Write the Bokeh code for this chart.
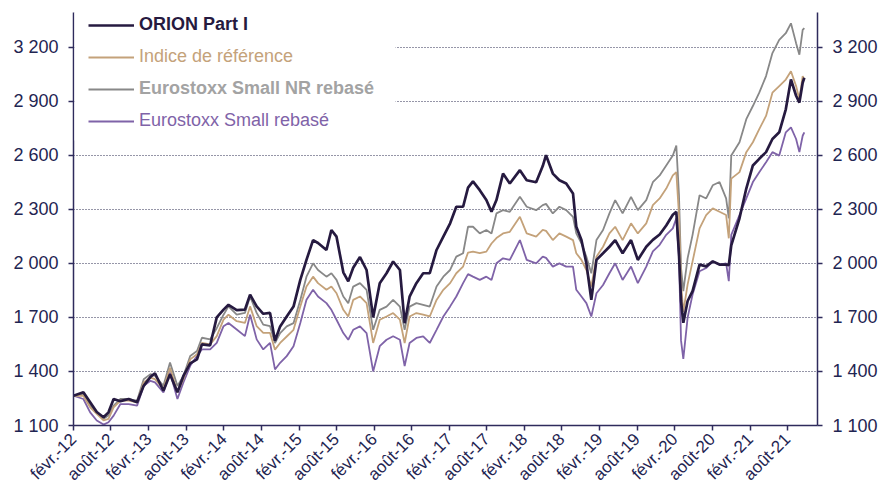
import math
import pandas as pd
from bokeh.plotting import figure
from bokeh.models import (Range1d, LinearAxis, FixedTicker, Legend, LegendItem,
                          BoxAnnotation, ColumnDataSource)
from bokeh.embed import file_html
from bokeh.resources import INLINE

# ---------------- data ----------------
dates = [
    "2012-02-01", "2012-03-20", "2012-04-22", "2012-05-24", "2012-06-26", "2012-07-20", "2012-08-14", "2012-09-16",
    "2012-10-26", "2012-12-06", "2013-01-07", "2013-02-09", "2013-03-03", "2013-04-13", "2013-05-15", "2013-06-20",
    "2013-07-19", "2013-08-21", "2013-09-23", "2013-10-17", "2013-11-26", "2013-12-28", "2014-01-30", "2014-02-23",
    "2014-04-04", "2014-05-14", "2014-06-08", "2014-07-10", "2014-08-11", "2014-09-13",
    "2014-10-07", "2014-11-01", "2014-12-03", "2015-01-05", "2015-02-07", "2015-03-09", "2015-04-10", "2015-05-04",
    "2015-06-14", "2015-07-08", "2015-08-02", "2015-09-04", "2015-09-28", "2015-10-22", "2015-11-24", "2015-12-26",
    "2016-01-27", "2016-02-28", "2016-04-01", "2016-05-03", "2016-06-05", "2016-06-28", "2016-07-22", "2016-08-24",
    "2016-09-26", "2016-10-28", "2016-11-30", "2017-01-02", "2017-02-04", "2017-03-06",
    "2017-04-08", "2017-05-02", "2017-05-26", "2017-06-28", "2017-07-30", "2017-08-24", "2017-09-17", "2017-10-19",
    "2017-11-21", "2018-01-09", "2018-02-11", "2018-03-29", "2018-04-30", "2018-05-16", "2018-06-18", "2018-07-20",
    "2018-08-22", "2018-09-24", "2018-10-10", "2018-11-04", "2018-11-28", "2018-12-22", "2019-01-16", "2019-02-17",
    "2019-03-20", "2019-04-17", "2019-05-23", "2019-07-03", "2019-08-05", "2019-09-15",
    "2019-10-17", "2019-11-19", "2019-12-21", "2020-01-22", "2020-02-08", "2020-02-21", "2020-03-02", "2020-03-13",
    "2020-04-03", "2020-04-27", "2020-05-31", "2020-07-02", "2020-08-03", "2020-09-05", "2020-10-07", "2020-10-20",
    "2020-11-01", "2020-12-11", "2021-01-13", "2021-02-14", "2021-03-17", "2021-04-19", "2021-05-20", "2021-06-22",
    "2021-07-24", "2021-08-18", "2021-09-12", "2021-09-28", "2021-10-14", "2021-10-22",
]

orion = [
    1265, 1284, 1229, 1175, 1146, 1173, 1247, 1235, 1247, 1229, 1320, 1370, 1390, 1293, 1385, 1284,
    1375, 1445, 1467, 1550, 1545, 1700, 1743, 1770, 1740, 1743, 1826, 1761, 1720, 1725,
    1570, 1650, 1705, 1760, 1908, 2019, 2129, 2113, 2074, 2185, 2148, 1950, 1900, 1975, 2035, 1963,
    1700, 1890, 1945, 2010, 1963, 1668, 1815, 1890, 1945, 1945, 2074, 2148, 2222, 2314,
    2314, 2420, 2455, 2406, 2351, 2286, 2351, 2498, 2443, 2517, 2461, 2450, 2540, 2600, 2498, 2461,
    2443, 2388, 2203, 2129, 2000, 1797, 2019, 2056, 2092, 2129, 2056, 2129, 2019, 2092,
    2130, 2160, 2210, 2270, 2286, 2050, 1791, 1670, 1791, 1846, 1993, 1983, 2011, 1993, 1993, 1990,
    2100, 2250, 2415, 2543, 2580, 2617, 2690, 2727, 2855, 3020, 2930, 2892, 3002, 3030,
]

indice = [
    1265, 1265, 1201, 1164, 1128, 1137, 1201, 1238, 1238, 1229, 1339, 1366, 1357, 1302, 1421, 1284,
    1357, 1467, 1495, 1559, 1550, 1596, 1688, 1715, 1679, 1669, 1761, 1651, 1614, 1614,
    1521, 1558, 1594, 1631, 1760, 1871, 1926, 1890, 1853, 1871, 1834, 1742, 1705, 1797, 1816, 1779,
    1558, 1687, 1705, 1724, 1687, 1558, 1705, 1724, 1715, 1705, 1797, 1853, 1890, 1945,
    1982, 2060, 2065, 2056, 2065, 2110, 2140, 2166, 2175, 2258, 2166, 2148, 2185, 2180, 2129, 2166,
    2148, 2129, 2056, 2019, 1963, 1871, 2037, 2092, 2166, 2203, 2129, 2222, 2166, 2222,
    2323, 2360, 2415, 2488, 2506, 2268, 1883, 1730, 1883, 2011, 2194, 2268, 2305, 2286, 2268, 2139,
    2470, 2506, 2617, 2672, 2745, 2818, 2947, 2984, 3020, 3066, 2984, 2910, 3039, 3020,
]

small_nr = [
    1265, 1275, 1210, 1173, 1137, 1155, 1210, 1247, 1247, 1238, 1357, 1385, 1375, 1320, 1449, 1320,
    1375, 1486, 1513, 1587, 1578, 1640, 1715, 1761, 1715, 1725, 1816, 1725, 1660, 1651,
    1558, 1613, 1650, 1668, 1797, 1926, 2000, 1963, 1926, 1945, 1908, 1816, 1779, 1871, 1890, 1853,
    1631, 1742, 1760, 1797, 1760, 1631, 1760, 1779, 1770, 1760, 1871, 1926, 1963, 2037,
    2056, 2203, 2203, 2166, 2185, 2166, 2277, 2295, 2286, 2369, 2314, 2295, 2323, 2330, 2277, 2314,
    2295, 2258, 2166, 2111, 2037, 1945, 2129, 2185, 2277, 2351, 2277, 2369, 2295, 2351,
    2450, 2488, 2543, 2598, 2653, 2378, 1974, 1846, 2029, 2158, 2378, 2360, 2433, 2451, 2360, 2250,
    2598, 2672, 2800, 2873, 2947, 3039, 3167, 3240, 3277, 3332, 3222, 3158, 3295, 3305,
]

small = [
    1265, 1247, 1173, 1128, 1105, 1118, 1155, 1219, 1219, 1210, 1320, 1348, 1339, 1284, 1394, 1247,
    1339, 1431, 1486, 1522, 1522, 1559, 1651, 1669, 1633, 1596, 1715, 1578, 1522, 1559,
    1411, 1448, 1485, 1540, 1669, 1798, 1853, 1816, 1779, 1742, 1687, 1613, 1576, 1631, 1650, 1613,
    1400, 1540, 1576, 1595, 1576, 1430, 1558, 1586, 1595, 1558, 1631, 1705, 1761, 1816,
    1890, 1940, 1926, 1908, 1926, 1908, 2000, 2028, 2019, 2129, 2019, 2000, 2037, 2030, 1982, 2000,
    1982, 1982, 1853, 1816, 1779, 1705, 1834, 1880, 1945, 2000, 1908, 1982, 1890, 1982,
    2066, 2103, 2158, 2194, 2250, 2029, 1571, 1470, 1699, 1827, 1956, 1974, 2011, 1993, 2000, 1901,
    2158, 2268, 2360, 2451, 2506, 2561, 2617, 2598, 2727, 2754, 2690, 2617, 2708, 2727,
]

series_names = ["ORION Part I", "Indice de référence", "Eurostoxx Small NR rebasé", "Eurostoxx Small rebasé"]

tick_dates = ["2012-02-01", "2012-08-01", "2013-02-01", "2013-08-01", "2014-02-01", "2014-08-01",
              "2015-02-01", "2015-08-01", "2016-02-01", "2016-08-01", "2017-02-01", "2017-08-01",
              "2018-02-01", "2018-08-01", "2019-02-01", "2019-08-01", "2020-02-01", "2020-08-01",
              "2021-02-01", "2021-08-01"]
tick_labels = ["févr.-12", "août-12", "févr.-13", "août-13", "févr.-14", "août-14", "févr.-15", "août-15",
               "févr.-16", "août-16", "févr.-17", "août-17", "févr.-18", "août-18", "févr.-19", "août-19",
               "févr.-20", "août-20", "févr.-21", "août-21"]

y_ticks = [1100, 1400, 1700, 2000, 2300, 2600, 2900, 3200]
y_labels = ["1 100", "1 400", "1 700", "2 000", "2 300", "2 600", "2 900", "3 200"]

x_start = "2012-02-01"
x_end = "2021-12-25"
y_min, y_max = 1100, 3392

# ---------------- build ----------------
base = pd.Timestamp(x_start)
xd = [(pd.Timestamp(d) - base).days for d in dates]
xt = [(pd.Timestamp(d) - base).days for d in tick_dates]
xe = (pd.Timestamp(x_end) - base).days

src = ColumnDataSource(dict(x=xd, orion=orion, indice=indice, nr=small_nr, small=small))

FONT = "Liberation Sans"
TXT = "#1f2552"
AX = "#2e2b5c"
C_ORION = "#261a40"
C_IND = "#c4a27a"
C_NR = "#888888"
C_SM = "#7f63a8"

p = figure(width=880, height=493, output_backend="svg", toolbar_location=None,
           x_range=Range1d(0, xe), y_range=Range1d(y_min, y_max),
           min_border_left=73, min_border_right=62, min_border_top=12, min_border_bottom=67)
p.title.visible = False
p.outline_line_color = None
p.xgrid.visible = False
p.ygrid.ticker = FixedTicker(ticks=y_ticks)
p.ygrid.grid_line_color = "#2c2c50"
p.ygrid.grid_line_dash = "1 2"
p.ygrid.grid_line_width = 1

# white patch behind the legend (gridlines stop there)
p.add_layout(BoxAnnotation(left=74, right=395, top=12, bottom=140,
                           left_units="canvas", right_units="canvas",
                           top_units="canvas", bottom_units="canvas",
                           fill_color="white", fill_alpha=1.0, line_color=None))

r_sm = p.line("x", "small", source=src, line_color=C_SM, line_width=1.8)
r_nr = p.line("x", "nr", source=src, line_color=C_NR, line_width=1.8)
r_ind = p.line("x", "indice", source=src, line_color=C_IND, line_width=1.8)
r_or = p.line("x", "orion", source=src, line_color=C_ORION, line_width=2.7)

# axes
xa = p.xaxis[0]
xa.ticker = FixedTicker(ticks=xt)
xa.major_label_overrides = {t: l for t, l in zip(xt, tick_labels)}
xa.major_label_orientation = math.pi / 4
xa.minor_tick_line_color = None
xa.major_tick_in = 0
xa.major_tick_out = 5
xa.major_label_standoff = 6
xa.major_label_text_font = FONT
xa.major_label_text_font_size = "17px"
xa.major_label_text_color = TXT
xa.axis_line_color = AX
xa.axis_line_width = 1.5
xa.major_tick_line_color = AX
xa.major_tick_line_width = 1.5

ya = p.yaxis[0]
ry = LinearAxis()
p.add_layout(ry, "right")
for ax, so in ((ya, 10), (ry, 10)):
    ax.ticker = FixedTicker(ticks=y_ticks)
    ax.major_label_overrides = {t: l for t, l in zip(y_ticks, y_labels)}
    ax.minor_tick_line_color = None
    ax.major_tick_in = 0
    ax.major_tick_out = 5
    ax.major_label_standoff = so
    ax.major_label_text_font = FONT
    ax.major_label_text_font_size = "18px"
    ax.major_label_text_color = TXT
    ax.axis_line_color = AX
    ax.axis_line_width = 1.5
    ax.major_tick_line_color = AX
    ax.major_tick_line_width = 1.5

# legends: one per entry, each with its own text colour/weight
leg_specs = [
    (r_or, series_names[0], C_ORION, "bold", 390),
    (r_ind, series_names[1], C_IND, "normal", 358),
    (r_nr, series_names[2], "#a3a3a3", "bold", 326),
    (r_sm, series_names[3], C_SM, "normal", 294),
]
for rend, lab, col, style, yoff in leg_specs:
    lg = Legend(items=[LegendItem(label=lab, renderers=[rend])], location=(15, yoff),
                margin=0, padding=0, spacing=0, glyph_width=46, glyph_height=20,
                label_height=20, label_standoff=5,
                label_text_font=FONT, label_text_font_size="18px",
                label_text_color=col, label_text_font_style=style,
                border_line_color=None, background_fill_alpha=0.0)
    p.add_layout(lg, "center")

open("out.html", "w").write(file_html(p, INLINE))
